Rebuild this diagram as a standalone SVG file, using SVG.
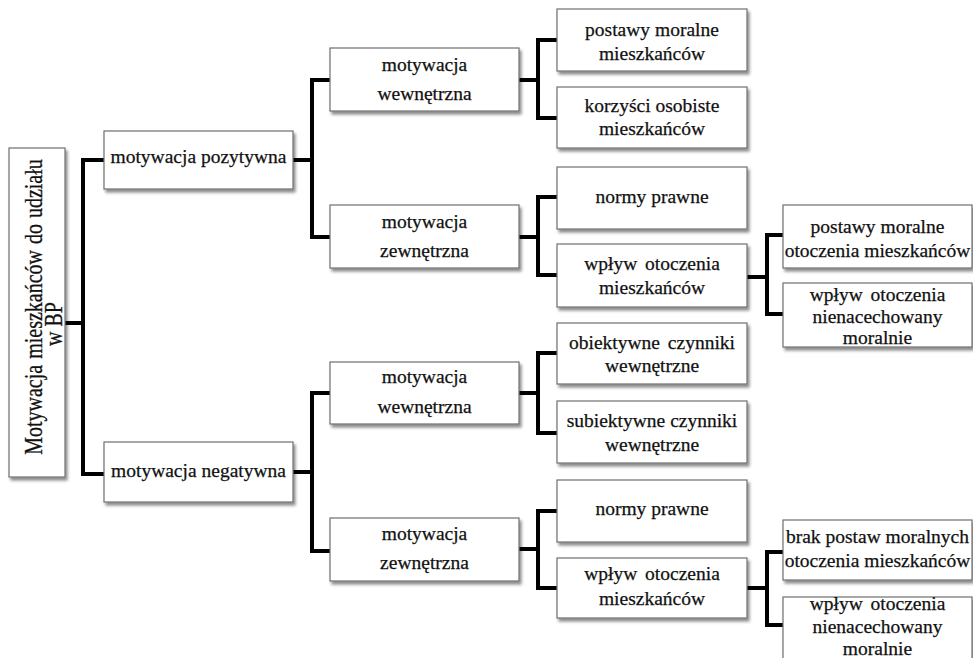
<svg xmlns="http://www.w3.org/2000/svg" width="973" height="658" viewBox="0 0 973 658">
<defs>
<filter id="sh" x="-10%" y="-10%" width="130%" height="140%">
<feDropShadow dx="2" dy="3" stdDeviation="1.6" flood-color="#000" flood-opacity="0.45"/>
</filter>
</defs>
<style>
.box{fill:#fff;stroke:#6e6e6e;stroke-width:1.2;filter:url(#sh)}
text{font-family:"Liberation Serif","Times New Roman",serif;font-size:19.5px;fill:#111;stroke:#111;stroke-width:0.25;text-anchor:middle}
.root{font-size:20px}
.c path{fill:none;stroke:#000;stroke-width:4;stroke-linejoin:miter;stroke-linecap:butt}
</style>
<rect width="973" height="658" fill="#fff"/>
<g class="c" id="connectors">
<path d="M65,323H83M104,160H83V474H104"/>
<path d="M293,160H312M330,80H312V237H330"/>
<path d="M293,472H312M330,393H312V551H330"/>
<path d="M519,80H538M557,40H538V118H557"/>
<path d="M519,237H538M557,197H538V275H557"/>
<path d="M519,393H538M557,353H538V433H557"/>
<path d="M519,549H538M557,511H538V588H557"/>
<path d="M747,277H767M783,235H767V314H783"/>
<path d="M747,588H767M783,552H767V625H783"/>
</g>
<g id="root">
<rect class="box" x="9" y="148" width="56" height="329"/>
<text class="root" transform="translate(42,307) rotate(-90) scale(1,1.25)" x="0" y="0" word-spacing="1">Motywacja mieszkańców do udziału</text>
<text class="root" transform="translate(62,324) rotate(-90) scale(1,1.25)" x="0" y="0">w BP</text>
</g>
<g id="pozytywna">
<rect class="box" x="104" y="131" width="189" height="58"/>
<text x="198.5" y="163">motywacja pozytywna</text>
</g>
<g id="negatywna">
<rect class="box" x="104" y="442" width="189" height="60"/>
<text x="198.5" y="477">motywacja negatywna</text>
</g>
<g id="poz-wewnetrzna">
<rect class="box" x="330" y="48" width="189" height="63"/>
<text x="424.5" y="71">motywacja</text>
<text x="424.5" y="100">wewnętrzna</text>
</g>
<g id="poz-zewnetrzna">
<rect class="box" x="330" y="205" width="189" height="63"/>
<text x="424.5" y="228">motywacja</text>
<text x="424.5" y="257">zewnętrzna</text>
</g>
<g id="neg-wewnetrzna">
<rect class="box" x="330" y="362" width="189" height="62"/>
<text x="424.5" y="383">motywacja</text>
<text x="424.5" y="413">wewnętrzna</text>
</g>
<g id="neg-zewnetrzna">
<rect class="box" x="330" y="518" width="189" height="63"/>
<text x="424.5" y="540">motywacja</text>
<text x="424.5" y="569">zewnętrzna</text>
</g>
<g id="postawy-moralne">
<rect class="box" x="557" y="9" width="190" height="62"/>
<text x="652" y="36">postawy moralne</text>
<text x="652" y="60">mieszkańców</text>
</g>
<g id="korzysci">
<rect class="box" x="557" y="87" width="190" height="61"/>
<text x="652" y="112">korzyści osobiste</text>
<text x="652" y="135">mieszkańców</text>
</g>
<g id="normy-poz">
<rect class="box" x="557" y="167" width="190" height="62"/>
<text x="652" y="203">normy prawne</text>
</g>
<g id="wplyw-poz">
<rect class="box" x="557" y="244" width="190" height="63"/>
<text x="652" y="270" word-spacing="3">wpływ otoczenia</text>
<text x="652" y="294">mieszkańców</text>
</g>
<g id="obiektywne">
<rect class="box" x="557" y="323" width="190" height="61"/>
<text x="652" y="349" word-spacing="3">obiektywne czynniki</text>
<text x="652" y="372">wewnętrzne</text>
</g>
<g id="subiektywne">
<rect class="box" x="557" y="401" width="190" height="62"/>
<text x="652" y="427">subiektywne czynniki</text>
<text x="652" y="451">wewnętrzne</text>
</g>
<g id="normy-neg">
<rect class="box" x="557" y="480" width="190" height="62"/>
<text x="652" y="515">normy prawne</text>
</g>
<g id="wplyw-neg">
<rect class="box" x="557" y="558" width="190" height="60"/>
<text x="652" y="580" word-spacing="3">wpływ otoczenia</text>
<text x="652" y="605">mieszkańców</text>
</g>
<g id="postawy-otoczenia">
<rect class="box" x="783" y="205" width="189" height="63"/>
<text x="877.5" y="233">postawy moralne</text>
<text x="877.5" y="257">otoczenia mieszkańców</text>
</g>
<g id="nienacechowany-poz">
<rect class="box" x="783" y="283" width="189" height="64"/>
<text x="877.5" y="301" word-spacing="3">wpływ otoczenia</text>
<text x="877.5" y="323">nienacechowany</text>
<text x="877.5" y="344">moralnie</text>
</g>
<g id="brak-postaw">
<rect class="box" x="783" y="520" width="189" height="60"/>
<text x="877.5" y="543">brak postaw moralnych</text>
<text x="877.5" y="567">otoczenia mieszkańców</text>
</g>
<g id="nienacechowany-neg">
<rect class="box" x="783" y="597" width="189" height="70"/>
<text x="877.5" y="610" word-spacing="3">wpływ otoczenia</text>
<text x="877.5" y="633">nienacechowany</text>
<text x="877.5" y="655">moralnie</text>
</g>
</svg>
